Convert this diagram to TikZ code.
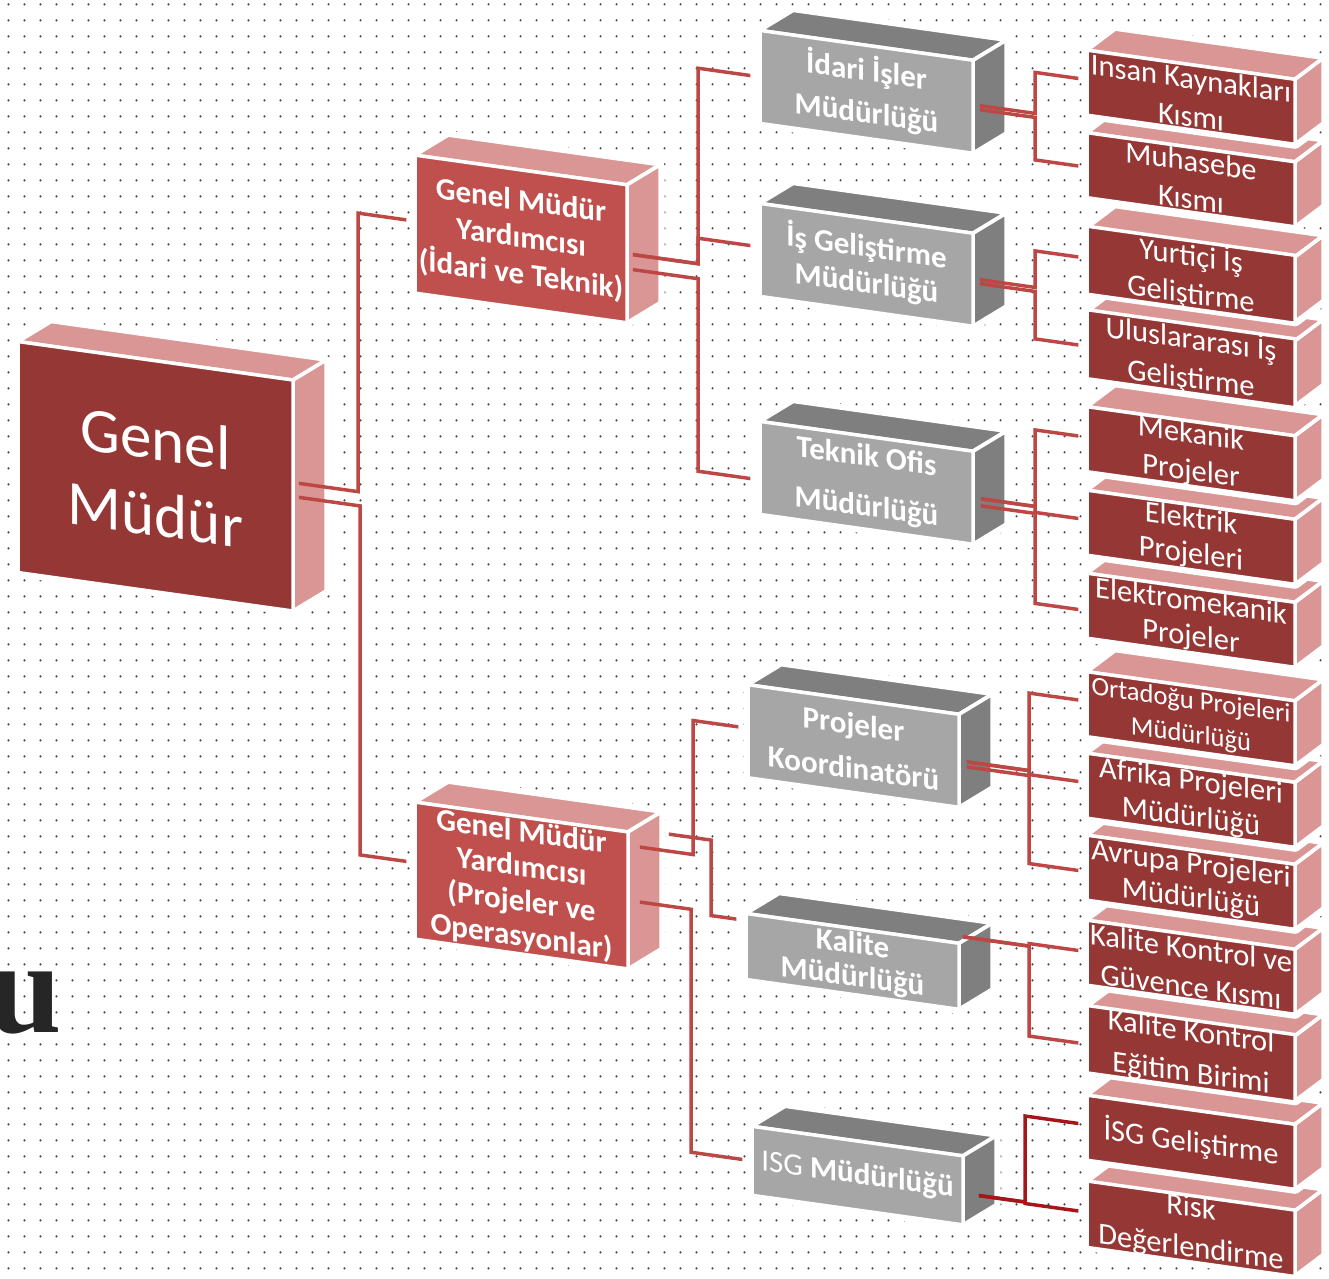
\documentclass[tikz,border=0pt]{standalone}
\usepackage{fontspec}
\setmainfont{Carlito}
\newfontfamily\serifb{Liberation Serif}
\usetikzlibrary{calc}
\definecolor{frontdark}{HTML}{953735}
\definecolor{frontmid}{HTML}{C0504D}
\definecolor{sidered}{HTML}{D99694}
\definecolor{frontgray}{HTML}{A6A6A6}
\definecolor{sidegray}{HTML}{7F7F7F}
\definecolor{cRed}{HTML}{BC4744}
\definecolor{cDark}{HTML}{A5161B}
\definecolor{dotgray}{HTML}{4A4A4A}
\definecolor{ugray}{HTML}{262626}
\tikzset{
  halo/.style={fill=white,draw=white,line width=9pt,line join=round},
  face/.style={draw=white,line width=3.5pt,line join=round},
  frontface/.style={draw=white,line width=3.5pt,inner sep=0pt,text=white,align=center},
  gmfont/.style={font=\fontsize{63}{76}\selectfont},
  gmyfont/.style={font=\fontsize{31}{#1}\selectfont\bfseries},
  gmyfont/.default=37,
  grayfont/.style={font=\fontsize{31}{#1}\selectfont\bfseries},
  colfont/.style={font=\fontsize{30.5}{#1}\selectfont},
  ortfont/.style={font=\fontsize{26.5}{34}\selectfont},
  conn/.style={draw=cRed,line width=3.5pt},
  conndk/.style={draw=cDark,line width=3.5pt},
  dotrow/.style={draw=dotgray,line width=2.4pt,line cap=round,dash pattern=on 0pt off 16pt},
}
% #1 name, #2 x, #3 u top, #4 w, #5 h, #6 front colour, #7 side colour, #8 node options, #9 text
\newcommand\tdbox[9]{%
  \path[halo] (#2,#3) -- ++(\dx,\du) -- ++(#4,0) -- ++(0,#5) -- ++(\ndx,\ndu) -- ++(-#4,0) -- cycle;
  \filldraw[face,fill=#7] (#2,#3) -- ++(\dx,\du) -- ++(#4,0) -- ++(\ndx,\ndu) -- cycle;
  \filldraw[face,fill=#7] (#2+#4,#3) -- ++(\dx,\du) -- ++(0,#5) -- ++(\ndx,\ndu) -- cycle;
  \node[frontface,fill=#6,minimum width=#4pt,minimum height=#5pt,#8] (#1) at (#2+#4/2,#3+#5/2) {#9};
}
\begin{document}
\begin{tikzpicture}[x=1pt,y=-1pt]
\useasboundingbox (0,0) rectangle (1329,1278);
\clip (0,0) rectangle (1329,1278);
\fill[white] (0,0) rectangle (1329,1278);
\foreach \r in {0,...,79} { \draw[dotrow] (8.5,4.3+16*\r) -- (1329,4.3+16*\r); }
\node[anchor=base east,inner sep=0pt,text=ugray,font=\serifb\bfseries\fontsize{132}{132}\selectfont] (ufrag) at (62,1032) {u};

\begin{scope}[transform canvas={yslant=-0.14}]
\def\dx{33}\def\du{-24.6}\def\ndx{-33}\def\ndu{24.6}
\tdbox{gm}{18}{339}{275}{231}{frontdark}{sidered}{gmfont}{Genel\\Müdür}
\tdbox{gmya}{415}{97}{212}{138}{frontmid}{sidered}{gmyfont}{Genel Müdür\\Yardımcısı\\(İdari ve Teknik)}
\tdbox{gmyb}{415}{744}{213}{137}{frontmid}{sidered}{gmyfont=35}{Genel Müdür\\Yardımcısı\\(Projeler ve\\Operasyonlar)}
\tdbox{idari}{760}{-76}{213}{93}{frontgray}{sidegray}{grayfont=42}{İdari İşler\\Müdürlüğü}
\tdbox{isgel}{760}{97}{213}{93}{frontgray}{sidegray}{grayfont=36}{İş Geliştirme\\Müdürlüğü}
\tdbox{teknik}{760}{315}{213}{93}{frontgray}{sidegray}{grayfont=50}{Teknik Ofis\\Müdürlüğü}
\tdbox{proj}{748}{580}{211}{93}{frontgray}{sidegray}{grayfont=44}{Projeler\\Koordinatörü}
\tdbox{kalite}{746}{809}{213}{66}{frontgray}{sidegray}{grayfont=33}{Kalite\\Müdürlüğü}
\tdbox{isg}{752}{1021}{211}{69}{frontgray}{sidegray}{grayfont=36}{{\mdseries ISG} Müdürlüğü}

\def\dx{28}\def\du{-25}\def\ndx{-28}\def\ndu{25}
\tdbox{risk}{1087}{1029.5}{208}{65}{frontdark}{sidered}{colfont=40}{Risk\\Değerlendirme}
\tdbox{isggel}{1087}{943}{208}{65}{frontdark}{sidered}{colfont=38}{İSG Geliştirme}
\tdbox{kke}{1087}{854.5}{208}{65}{frontdark}{sidered}{colfont=41}{Kalite Kontrol\\Eğitim Birimi}
\tdbox{kkg}{1087}{768}{208}{65}{frontdark}{sidered}{colfont=38}{Kalite Kontrol ve\\Güvence Kısmı}
\tdbox{avr}{1087}{683}{208}{65}{frontdark}{sidered}{colfont=34}{Avrupa Projeleri\\Müdürlüğü}
\tdbox{afr}{1087}{601}{208}{65}{frontdark}{sidered}{colfont=36}{Afrika Projeleri\\Müdürlüğü}
\tdbox{ort}{1087}{519.5}{208}{65}{frontdark}{sidered}{ortfont}{Ortadoğu Projeleri\\Müdürlüğü}
\tdbox{elm}{1087}{421}{208}{65}{frontdark}{sidered}{colfont=35}{Elektromekanik\\Projeler}
\tdbox{elk}{1087}{338}{208}{65}{frontdark}{sidered}{colfont=35}{Elektrik\\Projeleri}
\tdbox{mek}{1087}{254.5}{208}{65}{frontdark}{sidered}{colfont=37}{Mekanik\\Projeler}
\tdbox{ulus}{1087}{159.5}{208}{65}{frontdark}{sidered}{colfont=39}{Uluslararası İş\\Geliştirme}
\tdbox{yurt}{1087}{75.5}{208}{65}{frontdark}{sidered}{colfont=38}{Yurtiçi İş\\Geliştirme}
\tdbox{muh}{1087}{-19.5}{208}{65}{frontdark}{sidered}{colfont=38}{Muhasebe\\Kısmı}
\tdbox{ins}{1087}{-102}{208}{65}{frontdark}{sidered}{colfont=38}{Insan Kaynakları\\Kısmı}

% connectors: Genel Mudur
\coordinate (sGa) at ($(gm.east)+(4,-13)$);
\coordinate (sGb) at ($(gm.east)+(4,1)$);
\coordinate (bG1) at (358,0);
\coordinate (bG2) at (360,0);
\coordinate (eGa) at ($(gmya.west)+(-7,-3)$);
\coordinate (eGb) at ($(gmyb.west)+(-7,-8)$);
\draw[conn] (sGa) -| (eGa -| bG1) -- (eGa);
\draw[conn] (sGb) -| (eGb -| bG2) -- (eGb);
% GMY idari
\coordinate (sAa) at ($(gmya.east)+(4,0)$);
\coordinate (sAb) at ($(gmya.east)+(4,15)$);
\coordinate (bA) at (698,0);
\coordinate (eA1) at ($(idari.west)+(-8,0)$);
\coordinate (eA2) at ($(isgel.west)+(-8,-3)$);
\coordinate (eA3) at ($(teknik.west)+(-8,12)$);
\draw[conn] (sAa) -| (eA1 -| bA) -- (eA1);
\draw[conn] (sAa) -| (eA2 -| bA) -- (eA2);
\draw[conn] (sAb) -| (eA3 -| bA) -- (eA3);
% GMY projeler
\coordinate (sBp) at ($(gmyb.east)+(10,-55)$);
\coordinate (sBi) at ($(gmyb.east)+(10,0)$);
\coordinate (sBk) at ($(gmyb.east)+(39,-72)$);
\coordinate (bB1) at (693,0);
\coordinate (bB2) at (691,0);
\coordinate (bB3) at (711,0);
\coordinate (eBp) at ($(proj.west)+(-8,-3)$);
\coordinate (eBi) at ($(isg.west)+(-8,0)$);
\coordinate (eBk) at ($(kalite.west)+(-8,-26)$);
\draw[conn] (sBp) -| (eBp -| bB1) -- (eBp);
\draw[conn] (sBi) -| (eBi -| bB2) -- (eBi);
\draw[conn] (sBk) -| (eBk -| bB3) -- (eBk);
% Idari isler
\coordinate (bC) at (1035,0);
\coordinate (sC1) at ($(idari.east)+(5,-2)$);
\coordinate (sC2) at ($(idari.east)+(5,2)$);
\coordinate (eC1) at ($(ins.west)+(-7,-3)$);
\coordinate (eC2) at ($(muh.west)+(-7,2)$);
\draw[conn] (sC1) -| (eC1 -| bC) -- (eC1);
\draw[conn] (sC2) -| (eC2 -| bC) -- (eC2);
% Is gelistirme
\coordinate (sD1) at ($(isgel.east)+(5,-1)$);
\coordinate (sD2) at ($(isgel.east)+(5,3)$);
\coordinate (eD1) at ($(yurt.west)+(-7,-2)$);
\coordinate (eD2) at ($(ulus.west)+(-7,2)$);
\draw[conn] (sD1) -| (eD1 -| bC) -- (eD1);
\draw[conn] (sD2) -| (eD2 -| bC) -- (eD2);
% Teknik ofis
\coordinate (sE1) at ($(teknik.east)+(6,0)$);
\coordinate (sE2) at ($(teknik.east)+(6,7)$);
\coordinate (eE1) at ($(mek.west)+(-7,-2)$);
\coordinate (eE2) at ($(elk.west)+(-7,-3)$);
\coordinate (eE3) at ($(elm.west)+(-7,5)$);
\draw[conn] (sE1) -| (eE1 -| bC) -- (eE1);
\draw[conn] (sE2) -| (eE2 -| bC) -- (eE2);
\draw[conn] (sE1) -| (eE3 -| bC) -- (eE3);
% Projeler
\coordinate (bF) at (1029,0);
\coordinate (sF1) at ($(proj.east)+(6,0)$);
\coordinate (sF2) at ($(proj.east)+(6,5)$);
\coordinate (eF1) at ($(ort.west)+(-7,-3)$);
\coordinate (eF2) at ($(afr.west)+(-7,-3)$);
\coordinate (eF3) at ($(avr.west)+(-7,4)$);
\draw[conn] (sF1) -| (eF1 -| bF) -- (eF1);
\draw[conn] (sF2) -| (eF2 -| bF) -- (eF2);
\draw[conn] (sF1) -| (eF3 -| bF) -- (eF3);
% Kalite
\coordinate (sK) at ($(kalite.east)+(2,-40)$);
\coordinate (eK1) at ($(kkg.west)+(-7,-1)$);
\coordinate (eK2) at ($(kke.west)+(-7,5)$);
\draw[conn] (sK) -| (eK1 -| bF) -- (eK1);
\draw[conn] (sK) -| (eK2 -| bF) -- (eK2);
% ISG
\coordinate (bH) at (1025,0);
\coordinate (sH) at ($(isg.east)+(14,3)$);
\coordinate (eH1) at ($(isggel.west)+(-7,-3)$);
\coordinate (eH2) at ($(risk.west)+(-7,-2)$);
\draw[conndk] (sH) -| (eH1 -| bH) -- (eH1);
\draw[conndk] (sH) -| (eH2 -| bH) -- (eH2);
\end{scope}
\end{tikzpicture}
\end{document}
